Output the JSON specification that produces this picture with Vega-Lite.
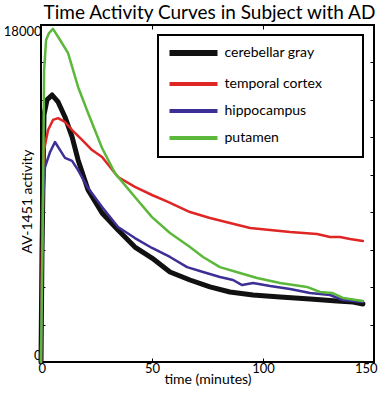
{
  "$schema": "https://vega.github.io/schema/vega-lite/v6.json",
  "width": 333,
  "height": 337,
  "autosize": {"type": "none"},
  "padding": {"left": 41, "top": 25, "right": 6, "bottom": 31},
  "background": "white",
  "title": {"text": "Time Activity Curves in Subject with AD", "font": "Lato", "fontSize": 19, "fontWeight": "normal", "color": "black", "anchor": "middle", "frame": "group", "offset": 2, "dx": 2},
  "config": {
    "view": {"stroke": "black", "strokeWidth": 2},
    "axis": {"labelFont": "Lato", "titleFont": "Lato", "labelFontSize": 13, "titleFontSize": 14, "titleFontWeight": "normal", "labelColor": "black", "titleColor": "black", "grid": false, "domain": false, "tickColor": "black", "tickSize": -4, "tickWidth": 1}
  },
  "data": {"values": [
    {"region": "cerebellar gray", "t": 0, "v": 0},
    {"region": "cerebellar gray", "t": 0.45, "v": 6000},
    {"region": "cerebellar gray", "t": 1.35, "v": 13200},
    {"region": "cerebellar gray", "t": 2.7, "v": 14000},
    {"region": "cerebellar gray", "t": 5, "v": 14260},
    {"region": "cerebellar gray", "t": 7.7, "v": 13890},
    {"region": "cerebellar gray", "t": 10.8, "v": 13090},
    {"region": "cerebellar gray", "t": 14, "v": 12020},
    {"region": "cerebellar gray", "t": 16.7, "v": 10790},
    {"region": "cerebellar gray", "t": 21.2, "v": 9190},
    {"region": "cerebellar gray", "t": 27.5, "v": 7960},
    {"region": "cerebellar gray", "t": 34.7, "v": 7050},
    {"region": "cerebellar gray", "t": 42.3, "v": 6140},
    {"region": "cerebellar gray", "t": 50, "v": 5550},
    {"region": "cerebellar gray", "t": 58.1, "v": 4810},
    {"region": "cerebellar gray", "t": 67.1, "v": 4380},
    {"region": "cerebellar gray", "t": 76.1, "v": 4010},
    {"region": "cerebellar gray", "t": 85.1, "v": 3740},
    {"region": "cerebellar gray", "t": 95.5, "v": 3580},
    {"region": "cerebellar gray", "t": 107.7, "v": 3470},
    {"region": "cerebellar gray", "t": 121.2, "v": 3360},
    {"region": "cerebellar gray", "t": 133.3, "v": 3260},
    {"region": "cerebellar gray", "t": 140.6, "v": 3200},
    {"region": "cerebellar gray", "t": 145, "v": 3100},
    {"region": "temporal cortex", "t": 0, "v": 0},
    {"region": "temporal cortex", "t": 0.45, "v": 6000},
    {"region": "temporal cortex", "t": 1.35, "v": 11320},
    {"region": "temporal cortex", "t": 3.2, "v": 12390},
    {"region": "temporal cortex", "t": 5.4, "v": 12930},
    {"region": "temporal cortex", "t": 7.7, "v": 13030},
    {"region": "temporal cortex", "t": 10.8, "v": 12820},
    {"region": "temporal cortex", "t": 14, "v": 12390},
    {"region": "temporal cortex", "t": 18.5, "v": 11860},
    {"region": "temporal cortex", "t": 23, "v": 11320},
    {"region": "temporal cortex", "t": 27.5, "v": 10950},
    {"region": "temporal cortex", "t": 34.7, "v": 9880},
    {"region": "temporal cortex", "t": 42.3, "v": 9350},
    {"region": "temporal cortex", "t": 50, "v": 8920},
    {"region": "temporal cortex", "t": 57.2, "v": 8550},
    {"region": "temporal cortex", "t": 67.1, "v": 8010},
    {"region": "temporal cortex", "t": 76.1, "v": 7690},
    {"region": "temporal cortex", "t": 85.1, "v": 7420},
    {"region": "temporal cortex", "t": 94.2, "v": 7160},
    {"region": "temporal cortex", "t": 103.2, "v": 7050},
    {"region": "temporal cortex", "t": 112.2, "v": 6940},
    {"region": "temporal cortex", "t": 124.3, "v": 6840},
    {"region": "temporal cortex", "t": 130.2, "v": 6680},
    {"region": "temporal cortex", "t": 134.7, "v": 6680},
    {"region": "temporal cortex", "t": 139.2, "v": 6570},
    {"region": "temporal cortex", "t": 145, "v": 6460},
    {"region": "hippocampus", "t": 0, "v": 0},
    {"region": "hippocampus", "t": 0.9, "v": 8650},
    {"region": "hippocampus", "t": 1.8, "v": 10410},
    {"region": "hippocampus", "t": 4.1, "v": 11220},
    {"region": "hippocampus", "t": 6.3, "v": 11750},
    {"region": "hippocampus", "t": 8.6, "v": 11320},
    {"region": "hippocampus", "t": 10.8, "v": 10900},
    {"region": "hippocampus", "t": 14, "v": 10740},
    {"region": "hippocampus", "t": 16.7, "v": 10250},
    {"region": "hippocampus", "t": 21.2, "v": 9290},
    {"region": "hippocampus", "t": 27.5, "v": 8280},
    {"region": "hippocampus", "t": 34.7, "v": 7210},
    {"region": "hippocampus", "t": 42.3, "v": 6620},
    {"region": "hippocampus", "t": 50, "v": 6090},
    {"region": "hippocampus", "t": 58.1, "v": 5610},
    {"region": "hippocampus", "t": 65.8, "v": 5070},
    {"region": "hippocampus", "t": 73, "v": 4810},
    {"region": "hippocampus", "t": 80.6, "v": 4540},
    {"region": "hippocampus", "t": 86.5, "v": 4380},
    {"region": "hippocampus", "t": 90.6, "v": 4110},
    {"region": "hippocampus", "t": 95.5, "v": 4220},
    {"region": "hippocampus", "t": 103.2, "v": 4060},
    {"region": "hippocampus", "t": 112.2, "v": 3900},
    {"region": "hippocampus", "t": 121.2, "v": 3690},
    {"region": "hippocampus", "t": 130.2, "v": 3580},
    {"region": "hippocampus", "t": 136, "v": 3310},
    {"region": "hippocampus", "t": 145, "v": 3200},
    {"region": "putamen", "t": 0, "v": 0},
    {"region": "putamen", "t": 0.9, "v": 8650},
    {"region": "putamen", "t": 1.4, "v": 15600},
    {"region": "putamen", "t": 2.3, "v": 17200},
    {"region": "putamen", "t": 3.6, "v": 17570},
    {"region": "putamen", "t": 5.4, "v": 17790},
    {"region": "putamen", "t": 8.6, "v": 17200},
    {"region": "putamen", "t": 12.2, "v": 16500},
    {"region": "putamen", "t": 16.7, "v": 14690},
    {"region": "putamen", "t": 21.2, "v": 13300},
    {"region": "putamen", "t": 27.5, "v": 11430},
    {"region": "putamen", "t": 33.3, "v": 10090},
    {"region": "putamen", "t": 42.3, "v": 8810},
    {"region": "putamen", "t": 50, "v": 7740},
    {"region": "putamen", "t": 58.1, "v": 6890},
    {"region": "putamen", "t": 67.1, "v": 6140},
    {"region": "putamen", "t": 73, "v": 5610},
    {"region": "putamen", "t": 80.6, "v": 5070},
    {"region": "putamen", "t": 89.6, "v": 4750},
    {"region": "putamen", "t": 97.3, "v": 4490},
    {"region": "putamen", "t": 107.7, "v": 4220},
    {"region": "putamen", "t": 119.8, "v": 4010},
    {"region": "putamen", "t": 125.7, "v": 3740},
    {"region": "putamen", "t": 131.1, "v": 3690},
    {"region": "putamen", "t": 136, "v": 3420},
    {"region": "putamen", "t": 145, "v": 3260}
  ]},
  "layer": [
    {
      "mark": {"type": "line", "strokeJoin": "round", "strokeCap": "round"},
      "encoding": {
        "x": {"field": "t", "type": "quantitative", "scale": {"domain": [0, 150], "nice": false, "zero": false},
          "axis": {"title": "time (minutes)", "values": [0, 50, 100, 150], "labelPadding": 4, "titlePadding": -3, "labelFlush": true, "labelFlushOffset": 3}},
        "y": {"field": "v", "type": "quantitative", "scale": {"domain": [0, 18000], "nice": false},
          "axis": {"title": "AV-1451 activity", "values": [0, 2000, 4000, 6000, 8000, 10000, 12000, 14000, 16000, 18000], "labelExpr": "datum.value == 0 || datum.value == 18000 ? datum.label : ''", "format": "d", "labelFlush": true, "labelPadding": 4, "titleX": -14, "titleY": 176, "titleAngle": -90, "titleBaseline": "middle",
            "encode": {"labels": {"update": {"dy": {"signal": "datum.value == 0 ? -3 : 0"}}}}}},
        "color": {"field": "region", "type": "nominal",
          "scale": {"domain": ["cerebellar gray", "temporal cortex", "hippocampus", "putamen"], "range": ["#111111", "#e02525", "#3c2f96", "#5cb83a"]},
          "legend": {"title": "\u00a0", "titleOrient": "right", "titlePadding": 30, "titleFontSize": 14, "orient": "none", "legendX": 117, "legendY": 10, "symbolType": "stroke", "symbolSize": 2304, "symbolStrokeWidth": 4, "symbolOffset": 17.5, "labelFont": "Lato", "labelFontSize": 14, "labelColor": "black", "labelOffset": 24, "rowPadding": 11, "padding": 11, "strokeColor": "black", "fillColor": "white", "cornerRadius": 0, "labelLimit": 300,
            "encode": {"legend": {"update": {"strokeWidth": {"value": 2}}}, "symbols": {"update": {"strokeWidth": {"signal": "datum.label == 'cerebellar gray' ? 6 : 4"}}}}}},
        "strokeWidth": {"condition": {"test": "datum.region == 'cerebellar gray'", "value": 5}, "value": 2.5}
      }
    },
    {
      "mark": {"type": "line", "opacity": 0},
      "encoding": {
        "x": {"field": "t", "type": "quantitative", "scale": {"domain": [0, 150], "nice": false, "zero": false},
          "axis": {"orient": "top", "title": null, "labels": false, "values": [50, 100]}},
        "y": {"field": "v", "type": "quantitative", "scale": {"domain": [0, 18000], "nice": false},
          "axis": {"orient": "right", "title": null, "labels": false, "values": [2000, 4000, 6000, 8000, 10000, 12000, 14000, 16000]}}
      }
    }
  ],
  "resolve": {"axis": {"x": "independent", "y": "independent"}}
}
